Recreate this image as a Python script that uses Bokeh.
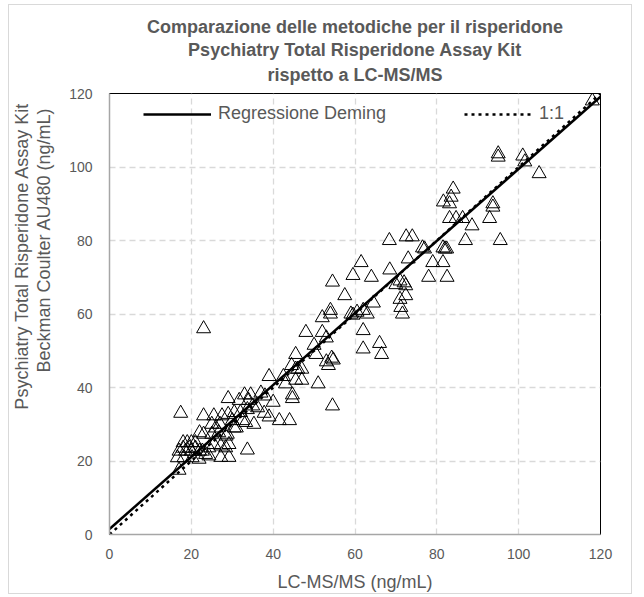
from bokeh.plotting import figure
from bokeh.models import Range1d, Title, Legend, LegendItem, FixedTicker
from bokeh.embed import file_html
from bokeh.resources import INLINE

# ---- data ----
lcms = [
    17, 17.4, 23, 25.5, 27.5, 29, 25, 27, 30.5, 32, 33.7,
    23, 25, 26.7, 28.8, 31, 33.3, 35.3, 33.7,
    18, 19, 20, 21, 18, 19.5, 21, 17, 18.6, 20, 22,
    22.7, 24.3, 25.5, 27.2, 28.4, 29.2, 16.6, 18.2, 20.2, 21.9,
    23.5, 24.3, 27.2, 29.2,
    23, 39, 42.5, 45.5, 44.7, 44.7, 37, 38, 40, 33, 34.5, 31.7, 34, 29, 35, 37.8,
    39, 41.5, 44, 36.2, 30, 32.5, 26, 30.5, 22, 28.5,
    61.5, 59.5, 64, 68.5, 54.5, 57.5, 54, 54, 52, 59, 60.5, 59.5, 62, 63, 64.5,
    62, 62, 66, 66.5, 48, 52, 53, 50, 45.5, 50.5, 54.3, 54.7, 53, 53.5,
    44.5, 45.5, 46, 47, 54.5, 51, 43, 47,
    68.4, 72.5, 74, 87, 95.5, 76.5, 77, 81.5, 82, 82.4, 73, 79, 81.5, 78, 82.5,
    71, 72, 70, 72.4, 71, 72.4, 71.2, 71.6,
    95, 95, 101, 101.5, 105, 84, 83.5, 81.6, 83.1, 93.7, 93.7, 92.9,
    83.1, 84.7, 86.3, 88.6, 118,
]
au480 = [
    17.5, 33, 32.3, 32.3, 32.3, 32.7, 30, 30, 33.2, 33.2, 34,
    27.3, 27.3, 27.7, 27.3, 29, 30.5, 30, 23,
    25, 25, 25, 25, 23.5, 23.5, 23.5, 22.7, 22.7, 22.7, 22.7,
    22.7, 23.6, 24.5, 24.1, 23.6, 24.5, 20.9, 20.9, 20.9, 20.5,
    21.8, 21.4, 21, 21,
    56, 43, 43, 42, 38, 37, 38.5, 37.7, 36, 38, 38, 36.5, 36.5, 37, 35, 33,
    32, 31, 31, 34.5, 31, 31, 29, 29, 27.7, 26.8,
    74, 70.5, 70, 72, 68.7, 65, 61, 60, 59, 60, 60.5, 59.7, 61, 60, 63,
    55.5, 50.5, 52, 49, 55, 55, 53.5, 51.5, 49, 49, 48, 47.5, 47, 46,
    46, 45, 45, 45, 35, 41, 41, 42,
    80, 81, 81, 80, 80, 78, 77.7, 78, 77.7, 77.7, 75, 74, 74, 70, 70,
    69, 68.5, 68, 67.7, 64, 65, 61.8, 60,
    103.6, 102.7, 103, 101.4, 98.2, 94, 91.8, 90.5, 90, 90, 89.1, 86,
    86, 86, 86, 84, 118,
]

deming_intercept = 1.5
deming_slope = 0.98
line_x = [0, 120]
deming_y = [deming_intercept + deming_slope * v for v in line_x]
identity_y = list(line_x)

ticks = [0, 20, 40, 60, 80, 100, 120]

title_lines = ["Comparazione delle metodiche per il risperidone",
               "Psychiatry Total Risperidone Assay Kit",
               "rispetto a LC-MS/MS"]
ylabel_lines = ["Psychiatry Total Risperidone Assay Kit",
                "Beckman Coulter AU480  (ng/mL)"]
xlabel = "LC-MS/MS (ng/mL)"

TXT = "#595959"
FONT = "Liberation Sans"
BIG = "18px"

p = figure(
    width=624, height=590,
    output_backend="svg", toolbar_location=None,
    x_range=Range1d(0, 120), y_range=Range1d(0, 120),
    min_border_left=100, min_border_right=33, min_border_top=88, min_border_bottom=61,
)
p.title.visible = False

# small spacer between frame and title block
p.add_layout(Title(text=" ", text_font_size="1px", standoff=4), "above")
# title: three centred lines, added from the plot outward
for txt, so in ((title_lines[2], 4), (title_lines[1], 1), (title_lines[0], 1)):
    p.add_layout(Title(text=txt, align="center", text_font=FONT, text_font_size=BIG,
                       text_font_style="bold", text_color=TXT, standoff=so), "above")

p.outline_line_color = "black"
p.outline_line_width = 1

for ax in (p.xaxis[0], p.yaxis[0]):
    ax.ticker = FixedTicker(ticks=ticks)
    ax.axis_line_color = "#A6A6A6"
    ax.axis_line_width = 1.5
    ax.major_tick_line_color = None
    ax.minor_tick_line_color = None
    ax.major_label_text_font = FONT
    ax.major_label_text_font_size = "14px"
    ax.major_label_text_color = TXT
    ax.axis_label_text_font = FONT
    ax.axis_label_text_font_size = BIG
    ax.axis_label_text_font_style = "normal"
    ax.axis_label_text_color = TXT

p.xaxis.major_label_standoff = 8
p.xaxis.axis_label = xlabel
p.xaxis.axis_label_standoff = 10
p.yaxis.major_label_standoff = 11
# invisible spacer label: keeps the y title lines away from the tick labels
p.yaxis.axis_label = " "
p.yaxis.axis_label_text_font_size = "1px"
p.yaxis.axis_label_standoff = 9

# y axis title lines (aligned toward the top of the frame as in the reference)
p.add_layout(Title(text=ylabel_lines[1], align="right", offset=9,
                   text_font=FONT, text_font_size=BIG, text_font_style="normal",
                   text_color=TXT, standoff=0), "left")
p.add_layout(Title(text=ylabel_lines[0], align="right", offset=9,
                   text_font=FONT, text_font_size=BIG, text_font_style="normal",
                   text_color=TXT, standoff=0), "left")

for g in (p.xgrid[0], p.ygrid[0]):
    g.ticker = FixedTicker(ticks=ticks)
    g.grid_line_color = "#D9D9D9"
    g.grid_line_width = 1.3
    g.grid_line_dash = "6 4"

p.scatter(lcms, au480, marker="triangle", size=14, fill_color=None,
          line_color="black", line_width=1)

r_id = p.line(line_x, identity_y, line_color="black", line_width=2.5, line_dash="3 4")
r_dem = p.line(line_x, deming_y, line_color="black", line_width=2.5)

legend = Legend(
    items=[LegendItem(label="Regressione Deming", renderers=[r_dem]),
           LegendItem(label="1:1", renderers=[r_id])],
    orientation="horizontal", location=(34, 410),
    glyph_width=68, label_standoff=7, spacing=78,
    padding=4, margin=0,
    background_fill_alpha=0, border_line_color=None,
    label_text_font=FONT, label_text_font_size=BIG, label_text_color=TXT,
)
p.add_layout(legend)

p.styles = {"border": "1px solid #D9D9D9", "margin-left": "8px", "margin-top": "4px"}

open("out.html", "w").write(file_html(p, INLINE))
